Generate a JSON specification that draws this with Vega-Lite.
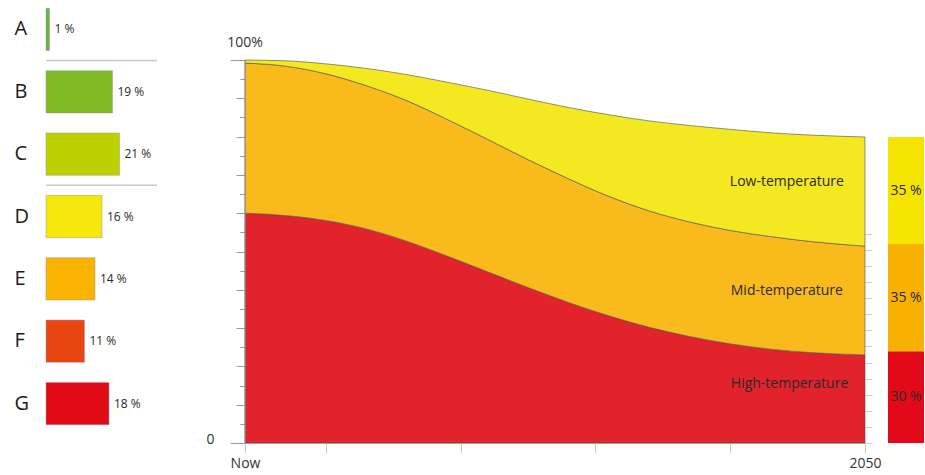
{
  "$schema": "https://vega.github.io/schema/vega-lite/v6.json",
  "padding": {"left": 14, "top": 0, "right": 0, "bottom": 0},
  "config": {"font": "Open Sans", "view": {"stroke": null}},
  "bounds": "flush",
  "spacing": 23,
  "resolve": {"scale": {"color": "independent", "x": "independent", "y": "independent"}},
  "datasets": {
    "shares": [
      {"letter": "A", "value": 1, "label": "1 %"},
      {"letter": "B", "value": 19, "label": "19 %"},
      {"letter": "C", "value": 21, "label": "21 %"},
      {"letter": "D", "value": 16, "label": "16 %"},
      {"letter": "E", "value": 14, "label": "14 %"},
      {"letter": "F", "value": 11, "label": "11 %"},
      {"letter": "G", "value": 18, "label": "18 %"}
    ],
    "temps": [
      {"year": 2004, "series": "High", "k": 1, "value": 60.0},
      {"year": 2004, "series": "Mid", "k": 2, "value": 39.2},
      {"year": 2004, "series": "Low", "k": 3, "value": 0.8},
      {"year": 2007, "series": "High", "k": 1, "value": 59.4},
      {"year": 2007, "series": "Mid", "k": 2, "value": 39.0},
      {"year": 2007, "series": "Low", "k": 3, "value": 1.4},
      {"year": 2010, "series": "High", "k": 1, "value": 58.1},
      {"year": 2010, "series": "Mid", "k": 2, "value": 38.3},
      {"year": 2010, "series": "Low", "k": 3, "value": 2.6},
      {"year": 2013, "series": "High", "k": 1, "value": 55.9},
      {"year": 2013, "series": "Mid", "k": 2, "value": 37.4},
      {"year": 2013, "series": "Low", "k": 3, "value": 4.5},
      {"year": 2016, "series": "High", "k": 1, "value": 52.7},
      {"year": 2016, "series": "Mid", "k": 2, "value": 36.7},
      {"year": 2016, "series": "Low", "k": 3, "value": 6.8},
      {"year": 2019, "series": "High", "k": 1, "value": 48.8},
      {"year": 2019, "series": "Mid", "k": 2, "value": 35.7},
      {"year": 2019, "series": "Low", "k": 3, "value": 9.7},
      {"year": 2022, "series": "High", "k": 1, "value": 44.7},
      {"year": 2022, "series": "Mid", "k": 2, "value": 34.6},
      {"year": 2022, "series": "Low", "k": 3, "value": 12.8},
      {"year": 2025, "series": "High", "k": 1, "value": 40.6},
      {"year": 2025, "series": "Mid", "k": 2, "value": 33.4},
      {"year": 2025, "series": "Low", "k": 3, "value": 15.8},
      {"year": 2028, "series": "High", "k": 1, "value": 36.7},
      {"year": 2028, "series": "Mid", "k": 2, "value": 32.3},
      {"year": 2028, "series": "Low", "k": 3, "value": 18.6},
      {"year": 2031, "series": "High", "k": 1, "value": 33.2},
      {"year": 2031, "series": "Mid", "k": 2, "value": 31.2},
      {"year": 2031, "series": "Low", "k": 3, "value": 21.3},
      {"year": 2034, "series": "High", "k": 1, "value": 30.2},
      {"year": 2034, "series": "Mid", "k": 2, "value": 30.4},
      {"year": 2034, "series": "Low", "k": 3, "value": 23.5},
      {"year": 2037, "series": "High", "k": 1, "value": 27.8},
      {"year": 2037, "series": "Mid", "k": 2, "value": 29.9},
      {"year": 2037, "series": "Low", "k": 3, "value": 25.2},
      {"year": 2040, "series": "High", "k": 1, "value": 25.9},
      {"year": 2040, "series": "Mid", "k": 2, "value": 29.6},
      {"year": 2040, "series": "Low", "k": 3, "value": 26.4},
      {"year": 2043, "series": "High", "k": 1, "value": 24.5},
      {"year": 2043, "series": "Mid", "k": 2, "value": 29.4},
      {"year": 2043, "series": "Low", "k": 3, "value": 27.1},
      {"year": 2046, "series": "High", "k": 1, "value": 23.6},
      {"year": 2046, "series": "Mid", "k": 2, "value": 29.0},
      {"year": 2046, "series": "Low", "k": 3, "value": 27.8},
      {"year": 2050, "series": "High", "k": 1, "value": 23.0},
      {"year": 2050, "series": "Mid", "k": 2, "value": 28.4},
      {"year": 2050, "series": "Low", "k": 3, "value": 28.5}
    ],
    "arealabels": [
      {"year": 2044.2, "pct": 68.1, "label": "Low-temperature"},
      {"year": 2044.2, "pct": 39.7, "label": "Mid-temperature"},
      {"year": 2044.4, "pct": 15.4, "label": "High-temperature"}
    ],
    "mix2050": [
      {"col": "2050", "series": "High", "k": 1, "value": 30, "label": "30 %"},
      {"col": "2050", "series": "Mid", "k": 2, "value": 35, "label": "35 %"},
      {"col": "2050", "series": "Low", "k": 3, "value": 35, "label": "35 %"}
    ]
  },
  "hconcat": [
    {
      "width": 176,
      "height": 433,
      "data": {"name": "shares"},
      "layer": [
        {
          "mark": {"type": "bar", "stroke": "#999999", "strokeWidth": 0.7, "strokeOpacity": 0.7},
          "encoding": {
            "y": {
              "field": "letter", "type": "nominal",
              "scale": {"domain": ["A", "B", "C", "D", "E", "F", "G"], "paddingInner": 0.322, "paddingOuter": 0.133},
              "axis": {"title": null, "ticks": false, "tickSize": 0, "domain": false, "labelAlign": "left", "labelPadding": 32, "labelFontSize": 20, "labelColor": "#1a1a1a", "labelAngle": 0}
            },
            "x": {"field": "value", "type": "quantitative", "scale": {"domain": [0, 50.29], "nice": false}, "axis": null},
            "color": {
              "field": "letter", "type": "nominal",
              "scale": {"domain": ["A", "B", "C", "D", "E", "F", "G"], "range": ["#6DB33F", "#7FBA27", "#BDD000", "#F4E80C", "#FAB400", "#E84610", "#E10A17"]},
              "legend": null
            }
          }
        },
        {
          "mark": {"type": "text", "align": "left", "dx": 5, "fontSize": 12, "color": "#2a2a2a"},
          "encoding": {
            "y": {"field": "letter", "type": "nominal"},
            "x": {"field": "value", "type": "quantitative"},
            "text": {"field": "label"}
          }
        },
        {
          "data": {"values": [{"letter": "A"}, {"letter": "C"}]},
          "mark": {"type": "rule", "color": "#c8c8c8", "strokeWidth": 1.5},
          "encoding": {
            "y": {"field": "letter", "type": "nominal", "bandPosition": 1.2375},
            "x": {"datum": 0},
            "x2": {"datum": 31.7}
          }
        }
      ]
    },
    {
      "width": 620,
      "height": 443,
      "resolve": {"axis": {"y": "independent"}},
      "layer": [
        {
          "data": {"name": "temps"},
          "mark": {"type": "area", "interpolate": "monotone", "stroke": "#555555", "strokeWidth": 0.8, "strokeOpacity": 0.8},
          "encoding": {
            "x": {
              "field": "year", "type": "quantitative",
              "scale": {"domain": [2004, 2050], "nice": false, "zero": false},
              "axis": {"title": null, "values": [2004, 2010, 2020, 2030, 2040, 2050], "labelExpr": "datum.value == 2004 ? 'Now' : (datum.value == 2050 ? '2050' : '')", "tickSize": 10, "tickColor": "#c8c8c8", "domainColor": "#bbbbbb", "labelFontSize": 14, "labelColor": "#333333", "labelPadding": 3, "grid": false, "labelFlush": false, "labelOverlap": false}
            },
            "y": {
              "field": "value", "type": "quantitative", "stack": "zero",
              "scale": {"domain": [0, 115.67], "nice": false},
              "axis": {
                "title": null, "domain": false, "grid": false,
                "values": [0, 5, 10, 15, 20, 25, 30, 35, 40, 45, 50, 55, 60, 65, 70, 75, 80, 85, 90, 95, 100],
                "tickSize": {"condition": [{"test": "datum.value == 0 || datum.value == 100", "value": 15}, {"test": "datum.value % 10 == 0", "value": 9}], "value": 5},
                "tickColor": "#999999",
                "labelExpr": "datum.value == 0 ? '0' : ''",
                "labelFontSize": 14, "labelColor": "#333333", "labelPadding": 16, "labelBaseline": "alphabetic", "labelOverlap": false, "labelFlush": false
              }
            },
            "color": {"field": "series", "type": "nominal", "scale": {"domain": ["High", "Mid", "Low"], "range": ["#E3232C", "#F9BB1C", "#F4E820"]}, "legend": null},
            "order": {"field": "k", "type": "quantitative"}
          }
        },
        {
          "data": {"values": [{}]},
          "mark": {"type": "rule", "color": "#999999", "strokeWidth": 1},
          "encoding": {"x": {"datum": 2004}, "y": {"datum": 0, "axis": null}, "y2": {"datum": 100}}
        },
        {
          "data": {"values": [{}]},
          "mark": {"type": "text", "dy": -17, "fontSize": 14, "color": "#333333"},
          "encoding": {"x": {"datum": 2004}, "y": {"datum": 100, "axis": null}, "text": {"value": "100%"}}
        },
        {
          "data": {"name": "arealabels"},
          "mark": {"type": "text", "fontSize": 14, "color": "#2a2a2a"},
          "encoding": {
            "x": {"field": "year", "type": "quantitative"},
            "y": {
              "field": "pct", "type": "quantitative",
              "axis": {"orient": "right", "title": null, "domain": false, "labels": false, "grid": false, "values": [0, 4.2, 8.4, 12.6, 16.8, 21, 25.2, 29.4, 33.6, 37.8, 42, 46.2, 50.4, 54.6], "tickSize": 7, "tickColor": "#c8c8c8"}
            },
            "text": {"field": "label"}
          }
        }
      ]
    },
    {
      "width": 36,
      "height": 443,
      "data": {"name": "mix2050"},
      "transform": [
        {"stack": "value", "groupby": ["col"], "sort": [{"field": "k", "order": "ascending"}], "as": ["y0", "y1"]},
        {"calculate": "(datum.y0 + datum.y1) / 2", "as": "mid"}
      ],
      "layer": [
        {
          "mark": {"type": "bar"},
          "encoding": {
            "x": {"field": "col", "type": "nominal", "scale": {"paddingInner": 0, "paddingOuter": 0}, "axis": null},
            "y": {"field": "y0", "type": "quantitative", "scale": {"domain": [0, 144.77], "nice": false}, "axis": null},
            "y2": {"field": "y1"},
            "color": {"field": "series", "type": "nominal", "scale": {"domain": ["High", "Mid", "Low"], "range": ["#E20A18", "#F8B100", "#F4E400"]}, "legend": null}
          }
        },
        {
          "mark": {"type": "text", "fontSize": 14, "color": "#2a2a2a"},
          "encoding": {
            "x": {"field": "col", "type": "nominal"},
            "y": {"field": "mid", "type": "quantitative"},
            "text": {"field": "label"}
          }
        }
      ]
    }
  ]
}
